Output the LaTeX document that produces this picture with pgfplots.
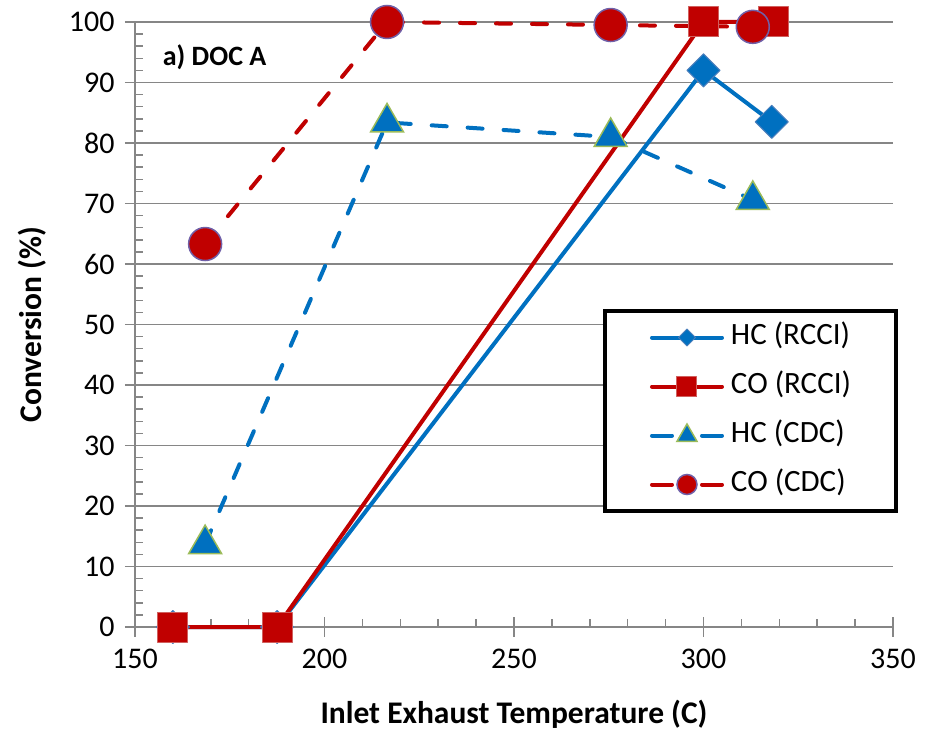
\documentclass[border=0pt]{standalone}
\usepackage{fontspec}
\setmainfont{Carlito}
\usepackage{pgfplots}
\pgfplotsset{compat=1.18}
\definecolor{cblue}{HTML}{0070C0}
\definecolor{cred}{HTML}{C00000}
\definecolor{gridgray}{HTML}{868686}
\definecolor{cpurple}{HTML}{7060A8}
\definecolor{tgreen}{HTML}{9BBB59}
\definecolor{dborder}{HTML}{4A7EBB}
\definecolor{sborder}{HTML}{D0605E}
\pgfplotsset{
  solidleg/.style={legend image code/.code={\draw[##1, mark size=#1, mark repeat=2, mark phase=2] plot coordinates {(0pt,0pt) (35pt,0pt) (70pt,0pt)};}},
  dashleg/.style={legend image code/.code={\draw[##1, solid, mark=none] (0pt,0pt)--(20pt,0pt) (50pt,0pt)--(70pt,0pt); \draw[##1, mark size=#1] plot coordinates {(35pt,0pt)};}},
}
\begin{document}
\begin{tikzpicture}
\begin{axis}[
  width=758pt, height=605pt, scale only axis,
  xmin=150, xmax=350, ymin=0, ymax=100,
  axis x line*=bottom, axis y line*=left,
  axis line style={gridgray, line width=1.5pt, -},
  xtick={150,200,...,350}, ytick={0,10,...,100},
  minor x tick num=4, minor y tick num=4,
  ymajorgrids, grid style={gridgray, line width=1.5pt},
  tick align=center, major tick length=20pt, minor tick length=8pt,
  tick style={gridgray, line width=1.5pt},
  minor x tick style={yshift=4pt}, minor y tick style={xshift=4pt},
  ticklabel style={font=\fontsize{30}{36}\selectfont},
  xticklabel style={yshift=-9pt},
  yticklabel style={xshift=-7pt},
  /pgf/number format/assume math mode=true,
  xlabel={Inlet Exhaust Temperature (C)}, ylabel={Conversion (\%)},
  label style={font=\bfseries\fontsize{31.5}{37}\selectfont},
  xlabel style={at={(axis description cs:0.5,0)}, anchor=base, yshift=-96pt},
  ylabel style={at={(axis description cs:0,0.5)}, anchor=base, yshift=93pt},
  legend style={at={(axis description cs:1.0066,0.5256)}, anchor=north east,
    draw=black, line width=4pt, fill=white,
    font=\fontsize{31}{37}\selectfont,
    inner xsep=45pt, inner ysep=12.5pt, row sep=21pt,
    nodes={inner sep=0pt, text height=21pt, text depth=7pt},
    /tikz/every odd column/.append style={column sep=7pt}},
  legend cell align=left,
  clip=false,
]
\addplot[cblue, line width=4pt, line cap=round, line join=round, mark=square*, mark size=11.7pt,
  mark options={solid, rotate=45, fill=cblue, draw=dborder, line width=1pt}, solidleg=6pt]
  coordinates {(160,0) (187.5,0) (300,92) (318,83.5)};
\addlegendentry{HC (RCCI)}
\addplot[cred, line width=4pt, line cap=round, line join=round, mark=square*, mark size=15pt,
  mark options={solid, fill=cred, draw=sborder, line width=1pt}, solidleg=10pt]
  coordinates {(160,0) (187.5,0) (300,100) (318.5,100)};
\addlegendentry{CO (RCCI)}
\addplot[cblue, line width=4pt, line cap=round, dash pattern=on 15pt off 21pt, mark=triangle*, mark size=19pt,
  mark options={solid, fill=cblue, draw=tgreen, line width=1.5pt}, dashleg=11.5pt]
  coordinates {(168.5,13.7) (216.5,83.4) (275.5,81) (313,70.6)};
\addlegendentry{HC (CDC)}
\addplot[cred, line width=4pt, line cap=round, dash pattern=on 15pt off 21pt, mark=*, mark size=16.5pt,
  mark options={solid, fill=cred, draw=cpurple, line width=1.5pt}, dashleg=10pt]
  coordinates {(168.5,63.3) (216.5,100) (275.5,99.5) (313,99.2)};
\addlegendentry{CO (CDC)}
\node[anchor=west, font=\bfseries\fontsize{28}{33}\selectfont] at (axis cs:156.4,94.2) {a) DOC A};
\coordinate (O) at (rel axis cs:0,0);
\end{axis}
\pgfresetboundingbox
\path ([shift={(-135pt,-103pt)}]O) rectangle ++(928pt,730pt);
\end{tikzpicture}
\end{document}
